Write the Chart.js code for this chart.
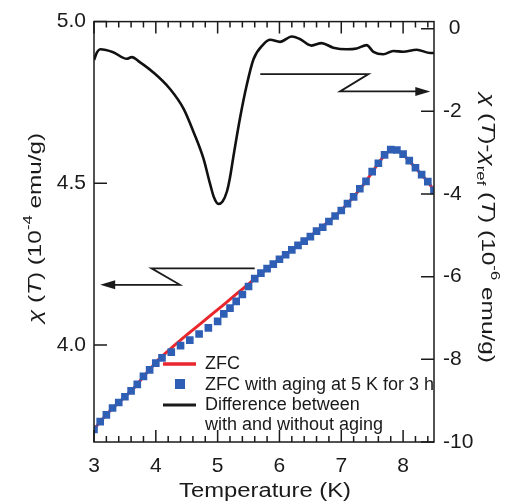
<!DOCTYPE html>
<html>
<head>
<meta charset="utf-8">
<script src="https://cdn.jsdelivr.net/npm/chart.js@4.4.1/dist/chart.umd.min.js"></script>
<style>html,body{margin:0;padding:0;background:#fff}</style>
</head>
<body>
<canvas id="c" width="512" height="504"></canvas>
<script>

// tick labels
const xTicks     = [3, 4, 5, 6, 7, 8]
const leftTicks  = [4.0, 4.5, 5.0]
const rightTicks = [0, -2, -4, -6, -8, -10]

// ZFC with aging at 5 K for 3 h  (10^-4 emu/g)
const agedT   = [3.0,3.1,3.2,3.3,3.4,3.5,3.6,3.7,3.8,3.9,4.0,4.1,4.25,4.4,4.55,4.7,4.85,5.0,5.1,5.2,5.3,5.4,5.5,5.6,5.7,5.8,5.9,6.0,6.1,6.2,6.3,6.4,6.5,6.6,6.7,6.8,6.9,7.0,7.1,7.2,7.3,7.4,7.5,7.6,7.7,7.8,7.9,8.0,8.1,8.2,8.3,8.4,8.5]
const agedChi = [3.739,3.763,3.784,3.805,3.822,3.840,3.858,3.878,3.903,3.923,3.944,3.960,3.978,3.998,4.015,4.034,4.053,4.073,4.096,4.114,4.135,4.156,4.181,4.205,4.222,4.236,4.250,4.265,4.279,4.294,4.308,4.321,4.335,4.352,4.364,4.382,4.399,4.416,4.437,4.458,4.483,4.506,4.536,4.562,4.588,4.604,4.603,4.590,4.570,4.548,4.527,4.505,4.478]

// ZFC  (10^-4 emu/g)
const zfcT   = [3.0,3.1,3.2,3.3,3.4,3.5,3.6,3.7,3.8,3.9,4.0,4.1,4.3,4.5,4.7,4.9,5.1,5.3,5.5,5.6,5.7,5.8,5.9,6.0,6.2,6.4,6.6,6.8,7.0,7.2,7.4,7.6,7.7,7.8,7.9,8.0,8.2,8.4,8.5]
const zfcChi = [3.739,3.763,3.784,3.805,3.822,3.840,3.858,3.878,3.903,3.923,3.947,3.965,3.999,4.031,4.062,4.094,4.125,4.157,4.188,4.205,4.222,4.236,4.250,4.265,4.294,4.321,4.352,4.382,4.416,4.458,4.506,4.562,4.588,4.604,4.603,4.590,4.548,4.505,4.478]

// difference between with and without aging  (10^-6 emu/g)
const diffT   = [3.00,3.05,3.10,3.31,3.53,3.61,3.74,3.96,4.23,4.45,4.61,4.77,4.88,4.94,5.01,5.08,5.15,5.20,5.25,5.36,5.47,5.58,5.74,5.85,6.01,6.20,6.33,6.52,6.68,6.87,7.09,7.25,7.41,7.52,7.68,7.84,8.00,8.22,8.44,8.50]
const diffVal = [-0.76,-0.57,-0.50,-0.57,-0.73,-0.69,-0.81,-1.06,-1.46,-1.94,-2.50,-3.14,-3.77,-4.08,-4.24,-4.18,-3.94,-3.60,-3.14,-2.18,-1.37,-0.74,-0.38,-0.27,-0.32,-0.19,-0.25,-0.41,-0.35,-0.46,-0.50,-0.48,-0.40,-0.56,-0.62,-0.54,-0.56,-0.51,-0.59,-0.59]


const FONT = '"Liberation Sans", Arial, sans-serif'
const INK  = '#1a1a1a'

function pts(xs, ys){ return xs.map((x,i)=>({ x:x, y:ys[i] })) }

function fixTicks(list){ return (scale)=>{ scale.ticks = list.map(v=>({ value:v })) } }


//rich text (italic, super/subscript), stretched along its direction
function fontOf(p, size){ return (p.i ? 'italic ' : '') + Math.round(p.s ? size*0.68 : size) + 'px ' + FONT }

function drawRich(ctx, parts, cx, cy, angle, size, length){
      let w = 0
      parts.forEach(p=>{ ctx.font = fontOf(p,size); p.w = ctx.measureText(p.t).width; w += p.w })
      ctx.save()
      ctx.translate(cx, cy)
      ctx.rotate(angle)
      ctx.scale(length / w, 1)
      ctx.fillStyle = INK
      ctx.textBaseline = 'alphabetic'
      ctx.textAlign = 'left'
      let x = -w/2
      parts.forEach(p=>{
            ctx.font = fontOf(p,size)
            let dy = 0
            if(p.s === 'sup'){ dy = -size*0.45 }
            if(p.s === 'sub'){ dy =  size*0.28 }
            ctx.fillText(p.t, x, dy)
            x += p.w
      })
      ctx.restore()
}

function arrow(ctx, line, tip, dir, len, half){
      ctx.beginPath()
      line.forEach((p,i)=>{ i ? ctx.lineTo(p[0],p[1]) : ctx.moveTo(p[0],p[1]) })
      ctx.stroke()
      ctx.beginPath()
      ctx.moveTo(tip[0], tip[1])
      ctx.lineTo(tip[0] - dir*len, tip[1] - half)
      ctx.lineTo(tip[0] - dir*len, tip[1] + half)
      ctx.closePath()
      ctx.fill()
}


const decor = {
      id: 'decor',
      afterDatasetsDraw(chart){
            const ctx = chart.ctx
            const a = chart.chartArea
            const sx = chart.scales.x, sy = chart.scales.y, sr = chart.scales.y2

            ctx.save()
            ctx.strokeStyle = INK
            ctx.fillStyle = INK
            ctx.lineWidth = 1.5

            //frame
            ctx.strokeRect(a.left, a.top, a.right - a.left, a.bottom - a.top)

            //inward ticks
            ctx.beginPath()
            for(let k = 30; k <= 84; k += 2){
                  const t = k/10
                  const px = sx.getPixelForValue(t)
                  const l = (k % 10 === 0) ? 12 : 6
                  ctx.moveTo(px, a.bottom); ctx.lineTo(px, a.bottom - l)
                  ctx.moveTo(px, a.top);    ctx.lineTo(px, a.top + l)
            }
            leftTicks.forEach(v=>{  const py = sy.getPixelForValue(v); ctx.moveTo(a.left, py);  ctx.lineTo(a.left + 13, py)  })
            rightTicks.forEach(v=>{ const py = sr.getPixelForValue(v); ctx.moveTo(a.right, py); ctx.lineTo(a.right - 13, py) })
            ctx.stroke()

            //arrows pointing at the axes
            ctx.lineWidth = 1.8
            const L = (x,y)=>[sx.getPixelForValue(x), sy.getPixelForValue(y)]
            const R = (x,y)=>[sx.getPixelForValue(x), sr.getPixelForValue(y)]
            arrow(ctx, [L(5.60,4.237), L(3.93,4.237), L(4.39,4.186), L(3.30,4.186)], L(3.10,4.186), -1, 15, 4.5)
            arrow(ctx, [R(5.69,-1.10), R(7.44,-1.10), R(6.98,-1.52), R(8.25,-1.52)], R(8.44,-1.52), 1, 15, 4.5)

            //legend
            ctx.lineWidth = 3.5
            ctx.strokeStyle = '#e8262c'
            ctx.beginPath(); ctx.moveTo(163, 364); ctx.lineTo(196, 364); ctx.stroke()
            ctx.fillStyle = '#2f5fb5'
            ctx.fillRect(175, 379, 10, 10)
            ctx.strokeStyle = INK
            ctx.lineWidth = 3
            ctx.beginPath(); ctx.moveTo(163, 405); ctx.lineTo(196, 405); ctx.stroke()

            ctx.fillStyle = INK
            ctx.font = '18px ' + FONT
            ctx.textBaseline = 'middle'
            ctx.textAlign = 'left'
            ctx.fillText('ZFC', 205, 364)
            ctx.fillText('ZFC with aging at 5 K for 3 h', 205, 385)
            ctx.fillText('Difference between', 205, 405)
            ctx.fillText('with and without aging', 205, 425)

            //axis titles
            drawRich(ctx, [{t:'χ',i:1},{t:' ('},{t:'T',i:1},{t:') (10'},{t:'-4',s:'sup'},{t:' emu/g)'}],
                     41, 228, -Math.PI/2, 19, 190)
            drawRich(ctx, [{t:'χ',i:1},{t:' ('},{t:'T',i:1},{t:')-'},{t:'χ',i:1},{t:'ref',s:'sub'},{t:' ('},{t:'T',i:1},{t:') (10'},{t:'-6',s:'sup'},{t:' emu/g)'}],
                     482, 228, Math.PI/2, 19, 270)
            drawRich(ctx, [{t:'Temperature (K)'}], 265, 497, 0, 20, 172)

            ctx.restore()
      }
}


const tickFont = { family: FONT, size: 21 }

new Chart(document.getElementById('c'), {
      data: {
            datasets: [
                  {
                        type: 'scatter',
                        label: 'ZFC with aging at 5 K for 3 h',
                        data: pts(agedT, agedChi),
                        yAxisID: 'y',
                        pointStyle: 'rect',
                        pointRadius: 5.4,
                        pointBackgroundColor: '#2f5fb5',
                        pointBorderWidth: 0,
                        order: 0,
                  },
                  {
                        type: 'line',
                        label: 'ZFC',
                        data: pts(zfcT, zfcChi),
                        yAxisID: 'y',
                        borderColor: '#e8262c',
                        borderWidth: 3,
                        pointRadius: 0,
                        tension: 0,
                        order: 1,
                  },
                  {
                        type: 'line',
                        label: 'Difference between with and without aging',
                        data: pts(diffT, diffVal),
                        yAxisID: 'y2',
                        borderColor: '#111',
                        borderWidth: 2.6,
                        pointRadius: 0,
                        cubicInterpolationMode: 'monotone',
                        order: 2,
                  },
            ]
      },
      options: {
            responsive: false,
            animation: false,
            devicePixelRatio: 1,
            layout: { padding: { top: 19, left: 0, right: 0, bottom: 0 } },
            plugins: { legend: { display: false }, tooltip: { enabled: false } },
            scales: {
                  x: {
                        type: 'linear', min: 3, max: 8.5,
                        afterBuildTicks: fixTicks(xTicks),
                        afterFit: (s)=>{ s.height = 62 },
                        grid: { display: false, drawTicks: false },
                        border: { display: false },
                        ticks: { font: tickFont, color: INK, padding: 12, autoSkip: false, maxRotation: 0, callback: (v)=>String(v) },
                  },
                  y: {
                        type: 'linear', position: 'left', min: 3.70, max: 5.0,
                        afterBuildTicks: fixTicks(leftTicks),
                        afterFit: (s)=>{ s.width = 94 },
                        grid: { display: false, drawTicks: false },
                        border: { display: false },
                        ticks: { font: tickFont, color: INK, padding: 8, callback: (v)=>v.toFixed(1) },
                  },
                  y2: {
                        type: 'linear', position: 'right', min: -10, max: 0.17,
                        afterBuildTicks: fixTicks(rightTicks),
                        afterFit: (s)=>{ s.width = 78 },
                        grid: { display: false, drawTicks: false },
                        border: { display: false },
                        ticks: { font: tickFont, color: INK, padding: 9, callback: (v)=> v === 0 ? '\u20080' : String(v) },
                  },
            }
      },
      plugins: [decor]
})

</script>
</body>
</html>
